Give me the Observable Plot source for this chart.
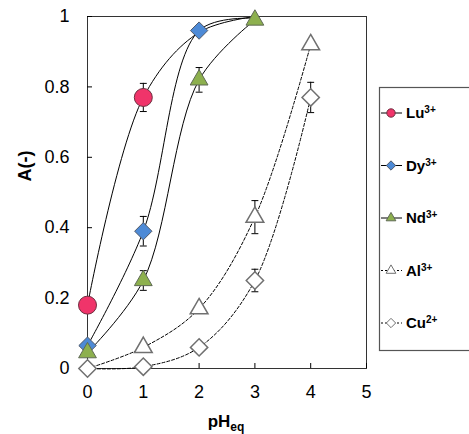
<!DOCTYPE html>
<html><head><meta charset="utf-8">
<script src="https://cdn.jsdelivr.net/npm/d3@7"></script>
<script src="https://cdn.jsdelivr.net/npm/@observablehq/plot@0.6"></script>
<style>body{margin:0;background:#fff} #chart{width:469px;height:434px;overflow:hidden}</style>
</head><body><div id="chart"></div>
<script>
// ---- data ----
const pH = [0, 1, 2, 3, 4];
const xTicks = [0, 1, 2, 3, 4, 5];
const yTicks = [0, 0.2, 0.4, 0.6, 0.8, 1];
const seriesNames = ["Lu", "Dy", "Nd", "Al", "Cu"];
const charges = ["3+", "3+", "3+", "3+", "2+"];

// measured points (markers)
const luA = [0.18, 0.77, null, null, null];
const dyA = [0.065, 0.39, 0.96, null, null];
const ndA = [0.045, 0.25, 0.82, 0.99, null];
const alA = [null, 0.06, 0.17, 0.43, 0.92];
const cuA = [0, 0.005, 0.06, 0.25, 0.77];

// fitted curves
const luCurve = [0.18, 0.77, 0.955, 1.0, null];
const dyCurve = [0.065, 0.39, 0.96, 0.995, null];
const ndCurve = [0.045, 0.25, 0.82, 0.99, null];
const alCurve = [0, 0.06, 0.17, 0.43, 0.92];
const cuCurve = [0, 0.005, 0.06, 0.25, 0.77];

// error bars (half widths)
const luErr = [null, 0.04, null, null, null];
const dyErr = [null, 0.042, 0.01, null, null];
const ndErr = [null, 0.028, 0.035, 0.01, null];
const alErr = [null, null, null, 0.047, null];
const cuErr = [null, null, null, 0.032, 0.043];

// ---- styles ----
const style = {
  Lu: {symbol: "circle", r: 9, fill: "#f0346a", stroke: "#6e3040", sw: 1, dash: null, lr: 4.2},
  Dy: {symbol: "diamond2", r: 7.8, fill: "#4d8ad6", stroke: "#505a6a", sw: 1, dash: null, lr: 4.2},
  Nd: {symbol: "triangle", r: 6.6, fill: "#8db04e", stroke: "#5f6a55", sw: 1, dash: null, lr: 3.6},
  Al: {symbol: "triangle", r: 6.6, fill: "#ffffff", stroke: "#707070", sw: 1.5, dash: "3,2", lr: 3.6},
  Cu: {symbol: "diamond2", r: 7.8, fill: "#ffffff", stroke: "#707070", sw: 1.5, dash: "3,2", lr: 4.2}
};

const markers = {Lu: luA, Dy: dyA, Nd: ndA, Al: alA, Cu: cuA};
const curves = {Lu: luCurve, Dy: dyCurve, Nd: ndCurve, Al: alCurve, Cu: cuCurve};
const errs = {Lu: luErr, Dy: dyErr, Nd: ndErr, Al: alErr, Cu: cuErr};

const rows = (vals) => pH.map((x, i) => ({x, y: vals[i]})).filter(d => d.y != null);

const errRows = [];
for (const s of seriesNames) {
  pH.forEach((x, i) => {
    const e = errs[s][i], y = markers[s][i];
    if (e != null && y != null) errRows.push({x, y1: y - e, y2: y + e});
  });
}
const capRows = errRows.flatMap(d => [{x: d.x, y: d.y1}, {x: d.x, y: d.y2}]);

const capSymbol = {draw(ctx, size) { const w = Math.sqrt(size); ctx.moveTo(-w / 2, 0); ctx.lineTo(w / 2, 0); }};

const W = 469, H = 434, mL = 87, mR = 103, mT = 16, mB = 66;
const innerW = W - mL - mR, innerH = H - mT - mB;

const marks = [
  Plot.frame({stroke: "#333", strokeWidth: 1}),
  Plot.tickY(yTicks, {y: d => d, insetRight: innerW - 5, stroke: "#000"}),
  Plot.tickX(xTicks, {x: d => d, insetTop: innerH - 5, stroke: "#000"}),
  Plot.axisY({ticks: yTicks, tickSize: 0, tickPadding: 18, fontSize: 18, label: null,
    tickFormat: d => String(+d.toFixed(1))}),
  Plot.axisX({ticks: xTicks, tickSize: 0, tickPadding: 17, fontSize: 18, label: null,
    tickFormat: d => String(d)}),
  Plot.ruleX(errRows, {x: "x", y1: "y1", y2: "y2", stroke: "#000", strokeWidth: 1}),
  Plot.dot(capRows, {x: "x", y: "y", symbol: capSymbol, r: 3.9, stroke: "#000", strokeWidth: 1})
];
for (const s of seriesNames) {
  marks.push(Plot.line(rows(curves[s]), {x: "x", y: "y", curve: "catmull-rom", stroke: "#000",
    strokeWidth: 1, strokeDasharray: style[s].dash}));
}
for (const s of seriesNames) {
  const st = style[s];
  marks.push(Plot.dot(rows(markers[s]), {x: "x", y: "y", symbol: st.symbol, r: st.r,
    fill: st.fill, stroke: st.stroke, strokeWidth: st.sw}));
}

const chart = Plot.plot({
  width: W, height: H,
  marginLeft: mL, marginRight: mR, marginTop: mT, marginBottom: mB,
  style: {fontFamily: "'Liberation Sans', Arial, sans-serif", fontSize: "18px", color: "#000", background: "#fff"},
  x: {domain: [0, 5]},
  y: {domain: [0, 1]},
  marks
});
document.getElementById("chart").appendChild(chart);

// ---- labels & legend ----
const svg = d3.select(chart);
const font = "'Liberation Sans', Arial, sans-serif";
svg.append("text")
  .attr("transform", "translate(25,166) rotate(-90)")
  .attr("text-anchor", "middle").attr("dy", "0.35em")
  .attr("font-family", font).attr("font-weight", "bold").attr("font-size", 18).attr("fill", "#000")
  .text("A(-)");
const xl = svg.append("text")
  .attr("x", 226).attr("y", 427).attr("text-anchor", "middle")
  .attr("font-family", font).attr("font-weight", "bold").attr("font-size", 17).attr("fill", "#000");
xl.append("tspan").text("pH");
xl.append("tspan").attr("font-size", 12).attr("dy", 4).text("eq");

const lg = svg.append("g");
lg.append("rect").attr("x", 379.5).attr("y", 87.5).attr("width", 110).attr("height", 263)
  .attr("fill", "#fff").attr("stroke", "#555").attr("stroke-width", 1.2);
const symMap = {circle: d3.symbolCircle, diamond2: d3.symbolDiamond2, triangle: d3.symbolTriangle};
seriesNames.forEach((s, i) => {
  const st = style[s];
  const y = 113 + i * 52.5;
  const ln = lg.append("line").attr("x1", 381).attr("x2", 402).attr("y1", y).attr("y2", y)
    .attr("stroke", "#000").attr("stroke-width", 1);
  if (st.dash) ln.attr("stroke-dasharray", "2,2");
  lg.append("path").attr("transform", `translate(391,${y})`)
    .attr("d", d3.symbol(symMap[st.symbol], Math.PI * st.lr * st.lr)())
    .attr("fill", st.fill).attr("stroke", st.stroke).attr("stroke-width", 1);
  const t = lg.append("text").attr("x", 406).attr("y", y).attr("dy", "0.36em")
    .attr("text-anchor", "start")
    .attr("font-family", font).attr("font-weight", "bold").attr("font-size", 15).attr("fill", "#000");
  t.append("tspan").text(s);
  t.append("tspan").attr("font-size", 10).attr("dy", -5).text(charges[i]);
});
</script>
</body></html>
